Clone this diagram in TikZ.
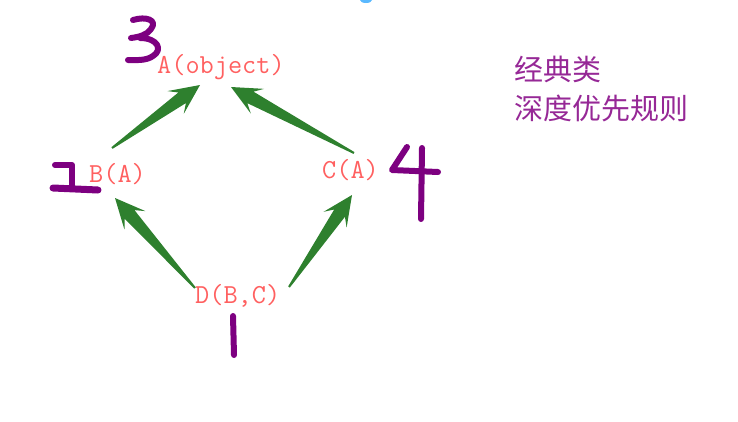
\documentclass[tikz,border=0pt]{standalone}
\usepackage{fontspec}
\usetikzlibrary{calc}
\newfontfamily\cjk{Noto Sans CJK SC}
\definecolor{arrowgreen}{RGB}{46,128,46}
\definecolor{labelred}{RGB}{255,96,96}
\definecolor{digitpurple}{RGB}{125,0,128}
\definecolor{notepurple}{RGB}{150,40,150}
\definecolor{blobblue}{RGB}{90,185,255}
\tikzset{
  cls/.style={text=labelred, font=\ttfamily\fontsize{27.5}{30}\selectfont, inner sep=0pt, anchor=base west},
  note/.style={text=notepurple, font=\cjk\fontsize{29}{38}\selectfont, inner sep=0pt, anchor=base west},
  digit/.style={draw=digitpurple, line width=6pt, line cap=round, line join=round},
}
\newcommand\brusharrow[2]{%
  \coordinate (h1) at ($(#2)!22pt!(#1)$);
  \coordinate (h2) at ($(#2)!30pt!(#1)$);
  \fill[arrowgreen]
    ($(#1)!1pt!90:(#2)$) -- ($(h1)!6.5pt!90:(#2)$) -- ($(h2)!14pt!90:(#2)$) -- (#2)
    -- ($(h2)!14pt!-90:(#2)$) -- ($(h1)!6.5pt!-90:(#2)$) -- ($(#1)!1pt!-90:(#2)$) -- cycle;
}
\begin{document}
\begin{tikzpicture}[x=1pt,y=-1pt]
\useasboundingbox (0,0) rectangle (738,421);
\begin{scope}
\clip (0,0) rectangle (738,421);
\fill[blobblue] (366,0) ellipse [x radius=6, y radius=3];
\end{scope}

% class labels
\node[cls] (A) at (157,73) {A(object)};
\node[cls] (B) at (89,182) {B(A)};
\node[cls] (C) at (322,178) {C(A)};
\node[cls] (D) at (195,303) {D(B,C)};

% connector end points
\coordinate (BtoA-tail) at (112,148);
\coordinate (BtoA-tip) at (200,85);
\coordinate (CtoA-tail) at (354,153);
\coordinate (CtoA-tip) at (231,87);
\coordinate (DtoB-tail) at (195,288);
\coordinate (DtoB-tip) at (115,198);
\coordinate (DtoC-tail) at (289,287);
\coordinate (DtoC-tip) at (352,195);

\brusharrow{BtoA-tail}{BtoA-tip}
\brusharrow{CtoA-tail}{CtoA-tip}
\brusharrow{DtoB-tail}{DtoB-tip}
\brusharrow{DtoC-tail}{DtoC-tip}

% handwritten order numbers
\draw[digit] (133,20) .. controls (146,16) and (158,20) .. (151,29)
  .. controls (147,35) and (139,37) .. (131,38);
\draw[digit] (140,38) .. controls (158,38) and (163,50) .. (153,56)
  .. controls (146,61) and (136,60) .. (128,60);
\draw[digit] (55,165) -- (72,165) -- (72,186);
\draw[digit, line width=7pt] (53,188) -- (98,190);
\draw[digit] (407,147) -- (392,170) -- (438,172);
\draw[digit] (422,148) -- (421,219);
\draw[digit] (233,316) -- (234,355);

% note
\node[note] (zh1) at (514,80) {经典类};
\node[note] (zh2) at (514,119) {深度优先规则};
\end{tikzpicture}
\end{document}
